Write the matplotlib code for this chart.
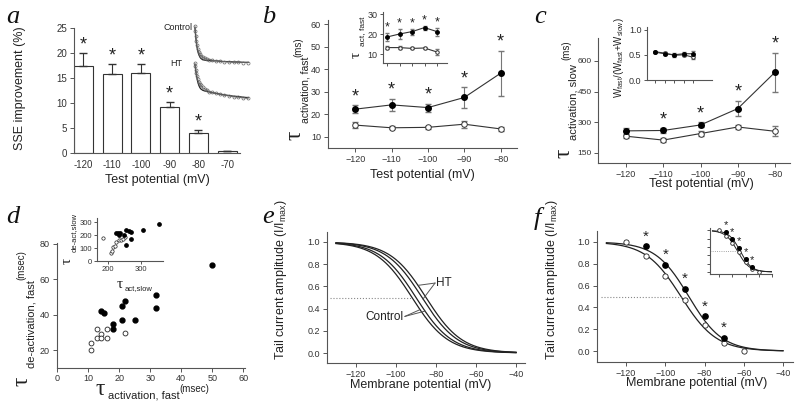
import numpy as np
import matplotlib
matplotlib.use("Agg")
import matplotlib.pyplot as plt

plt.rcParams['font.family'] = ['Liberation Sans', 'DejaVu Sans']
plt.rcParams['mathtext.fontset'] = 'custom'
plt.rcParams['mathtext.rm'] = 'Liberation Sans'
plt.rcParams['mathtext.it'] = 'Liberation Sans:italic'

# ---- data ----
# a: SSE improvement of the two-exponential fit
a_pot = [-120, -110, -100, -90, -80, -70]
sse = [17.4, 15.8, 15.9, 9.2, 4.0, 0.3]
sse_err = [2.6, 2.0, 1.8, 1.0, 0.6, 0.1]
sse_sig = [1, 1, 1, 1, 1, 0]

# a inset: example current traces (normalised)
trace_t = [0, 0.5, 1, 1.5, 2, 3, 4, 5, 6, 8, 10, 12, 15, 18, 22, 26, 30, 35, 40, 45, 50, 55]
ctrl_i = [1.0, 0.86, 0.73, 0.59, 0.48, 0.37, 0.29, 0.24, 0.19, 0.15, 0.12, 0.10,
          0.08, 0.07, 0.05, 0.04, 0.03, 0.02, 0.015, 0.01, 0.005, 0.0]
ctrl_fit = [0.95, 0.80, 0.66, 0.54, 0.44, 0.31, 0.22, 0.16, 0.12, 0.08, 0.07, 0.06,
            0.06, 0.05, 0.05, 0.04, 0.03, 0.03, 0.02, 0.02, 0.01, 0.01]
ht_i = [1.0, 0.92, 0.81, 0.72, 0.64, 0.54, 0.47, 0.41, 0.37, 0.31, 0.27, 0.24,
        0.19, 0.17, 0.14, 0.11, 0.09, 0.07, 0.04, 0.03, 0.01, 0.0]
ht_fit = [0.97, 0.86, 0.76, 0.67, 0.59, 0.46, 0.37, 0.31, 0.27, 0.23, 0.21, 0.20,
          0.18, 0.16, 0.14, 0.12, 0.10, 0.08, 0.06, 0.05, 0.03, 0.02]

# b: tau activation fast (ms)
b_pot = [-120, -110, -100, -90, -80]
b_ht = [22.3, 24.2, 23.0, 27.5, 38.3]
b_ht_err = [1.8, 2.8, 1.8, 4.7, 10.0]
b_ct = [15.2, 14.0, 14.2, 15.6, 13.5]
b_ct_err = [1.5, 0.6, 0.6, 1.5, 1.0]
b_sig = [1, 1, 1, 1, 1]
bi_ht = [18.5, 20.0, 21.2, 23.2, 21.2]
bi_ht_err = [2.0, 2.5, 1.5, 1.0, 2.0]
bi_ct = [13.2, 13.2, 12.8, 13.0, 11.0]
bi_ct_err = [0.6, 0.6, 0.5, 0.7, 1.5]

# c: tau activation slow (ms)
c_ht = [258, 260, 287, 367, 545]
c_ht_err = [15, 12, 12, 38, 95]
c_ct = [232, 213, 245, 277, 256]
c_ct_err = [8, 10, 10, 12, 25]
c_sig = [0, 1, 1, 1, 1]
ci_ht = [0.55, 0.52, 0.50, 0.52, 0.52]
ci_ht_err = [0.02, 0.03, 0.03, 0.04, 0.05]
ci_ct = [0.56, 0.53, 0.49, 0.50, 0.45]
ci_ct_err = [0.02, 0.03, 0.03, 0.03, 0.04]

# d: deactivation vs activation time constants
d_ht_x = [50, 32, 32, 22, 21, 14, 15, 18, 18, 21, 25]
d_ht_y = [68, 51, 44, 48, 45, 42, 41, 35, 32, 37, 37]
d_ct_x = [11, 11, 13, 14, 13, 14, 16, 16, 22]
d_ct_y = [24, 20, 32, 29, 27, 27, 32, 27, 30]
di_ht_x = [354, 305, 225, 230, 232, 236, 248, 255, 262, 268, 270, 255]
di_ht_y = [285, 240, 215, 220, 200, 215, 205, 240, 230, 225, 175, 125]
di_ct_x = [185, 210, 212, 215, 220, 225, 232, 238, 245, 250]
di_ct_y = [180, 60, 75, 110, 120, 150, 160, 165, 175, 190]

# e: Boltzmann fits of individual groups
e_vhalf = [-92.0, -90.0, -87.0, -85.0]
e_slope = [9.0, 9.0, 9.0, 9.0]

# f: mean activation curves
f_ct_v = [-120, -110, -100, -90, -80, -70, -60]
f_ct = [1.0, 0.87, 0.69, 0.47, 0.24, 0.07, 0.0]
f_ht_v = [-110, -100, -90, -80, -70]
f_ht = [0.96, 0.79, 0.57, 0.32, 0.12]
f_vhalf = [-92.0, -88.0]
f_slope = [9.0, 8.5]

W, H = 800, 411
fig = plt.figure(figsize=(8, 4.11), dpi=100)
GRAY = '#555555'
LINE = '#333333'
EB = '#777777'


def box(l, t, r, b):
    return [l / W, 1 - b / H, (r - l) / W, (b - t) / H]


def ftext(x, y, s, **kw):
    return fig.text(x / W, 1 - y / H, s, **kw)


def style(ax, fs=7):
    for s in ['top', 'right']:
        ax.spines[s].set_visible(False)
    for s in ['left', 'bottom']:
        ax.spines[s].set_color(GRAY)
        ax.spines[s].set_linewidth(0.8)
    ax.tick_params(direction='out', length=3, width=0.7, color=GRAY,
                   labelsize=fs, labelcolor='#333333', pad=2)


def boltz(v, vh, k):
    return 1.0 / (1.0 + np.exp((np.asarray(v) - vh) / k))


def stars(ax, xs, tops, sig, fs=12, off=4):
    for x, t, s in zip(xs, tops, sig):
        if s:
            ax.annotate('*', (x, t), xytext=(0, off), textcoords='offset points',
                        ha='center', va='center', fontsize=fs, color='#222222')


def tau_v(x, y0, sub, xs, ys, unit=None, xu=None, yu=None, ts=17, ss=7.5, us=7):
    # vertical tau label: big tau, rotated subscript text, unit
    kw = dict(rotation=90, rotation_mode='anchor', ha='left', va='center', color='#222222')
    ftext(x, y0, '\u03c4', family='Liberation Serif', fontsize=ts, **kw)
    ftext(xs, ys, sub, fontsize=ss, **kw)
    if unit:
        ftext(xu, yu, unit, fontsize=us, **kw)


def mean_plot(ax, x, ht, ht_err, ct, ct_err, ms=4, cap=2):
    ax.errorbar(x, ct, yerr=ct_err, fmt='none', ecolor=EB, elinewidth=0.8, capsize=cap)
    ax.errorbar(x, ht, yerr=ht_err, fmt='none', ecolor=EB, elinewidth=0.8, capsize=cap)
    ax.plot(x, ct, '-o', color=LINE, lw=0.8, ms=ms, mfc='white', mec=LINE, mew=0.7)
    ax.plot(x, ht, '-o', color=LINE, lw=0.8, ms=ms, mfc='black', mec='black')


letter_kw = dict(family='Liberation Serif', style='italic', fontsize=19, color='#111111',
                 ha='left', va='baseline')

# ---------------- a ----------------
ax = fig.add_axes(box(74, 28, 240, 153))
style(ax)
xa = np.arange(len(a_pot))
ax.bar(xa, sse, width=0.66, color='white', edgecolor='#333333', lw=0.8)
ax.errorbar(xa, sse, yerr=[np.zeros(len(sse)), sse_err], fmt='none', ecolor='#333333',
            elinewidth=0.8, capsize=3)
stars(ax, xa, np.add(sse, sse_err), sse_sig, fs=13, off=6)
ax.set_xlim(-0.33, 5.45)
ax.set_ylim(0, 25)
ax.set_yticks([0, 5, 10, 15, 20, 25])
ax.set_xticks(xa)
ax.set_xticklabels([str(v) for v in a_pot])
ax.tick_params(axis='x', length=0, pad=5)
ftext(20, 88, 'SSE improvement (%)', rotation=90, ha='center', va='center', fontsize=9, color='#222222')
ftext(157, 180, 'Test potential (mV)', ha='center', va='center', fontsize=9, color='#222222')
ftext(6, 23, 'a', **letter_kw)

# inset traces
for (t0, b0, yi, yf, lo, hi) in [(24, 65, ctrl_i, ctrl_fit, -0.063, 1.054),
                                  (61, 100, ht_i, ht_fit, -0.049, 1.066)]:
    axi = fig.add_axes(box(193, t0, 250, b0))
    axi.plot(trace_t, yf, color='#222222', lw=0.9)
    axi.plot(trace_t, yi, '-o', color='#666666', lw=0.6, ms=2.2, mfc='none', mec='#666666', mew=0.5)
    axi.set_xlim(-2, 57)
    axi.set_ylim(lo, hi)
    axi.axis('off')
ftext(193, 27, 'Control', ha='right', va='center', fontsize=6.5, color='#222222')
ftext(176, 63, 'HT', ha='center', va='center', fontsize=6.5, color='#222222')

# ---------------- b ----------------
ax = fig.add_axes(box(328, 20, 517, 148))
style(ax, fs=6.5)
mean_plot(ax, b_pot, b_ht, b_ht_err, b_ct, b_ct_err)
stars(ax, b_pot, np.add(b_ht, b_ht_err), b_sig, fs=13, off=6)
ax.set_xlim(-127.5, -75.5)
ax.set_ylim(5, 62)
ax.set_xticks(b_pot)
ax.set_yticks([10, 20, 30, 40, 50, 60])
ftext(422, 175, 'Test potential (mV)', ha='center', va='center', fontsize=9, color='#222222')
tau_v(295, 140, 'activation, fast', 305, 123, '(ms)', 298, 57, ts=17, ss=7.5)
ftext(262, 23, 'b', **letter_kw)

axi = fig.add_axes(box(383, 12, 447, 63))
style(axi, fs=6.5)
xi = np.arange(1, 6)
mean_plot(axi, xi, bi_ht, bi_ht_err, bi_ct, bi_ct_err, ms=2.5, cap=1.2)
stars(axi, xi, np.add(bi_ht, bi_ht_err), b_sig, fs=9, off=4)
axi.set_xlim(0.68, 5.8)
axi.set_ylim(5.5, 31)
axi.set_xticks(xi)
axi.set_xticklabels([])
axi.set_yticks([10, 20, 30])
axi.tick_params(length=2)
tau_v(356, 58, 'act, fast', 363, 46, ts=11, ss=6)

# ---------------- c ----------------
ax = fig.add_axes(box(598, 38, 790, 163))
style(ax, fs=6.5)
mean_plot(ax, b_pot, c_ht, c_ht_err, c_ct, c_ct_err)
stars(ax, b_pot, np.add(c_ht, c_ht_err), c_sig, fs=13, off=6)
ax.set_xlim(-127.5, -76)
ax.set_ylim(101, 712)
ax.set_xticks(b_pot)
ax.set_yticks([150, 300, 450, 600])
ax.tick_params(axis='y', pad=1.5, labelsize=6)
ftext(701, 184, 'Test potential (mV)', ha='center', va='center', fontsize=9, color='#222222')
tau_v(564, 158, 'activation, slow', 573, 140, '(ms)', 566, 60, ts=17, ss=8, us=7)
ftext(534, 23, 'c', **letter_kw)

axi = fig.add_axes(box(647, 27, 712, 80))
style(axi, fs=6.5)
mean_plot(axi, xi, ci_ht, ci_ht_err, ci_ct, ci_ct_err, ms=2.5, cap=1.2)
axi.set_xlim(0.1, 7.0)
axi.set_ylim(0, 1.05)
axi.set_xticks(xi)
axi.set_xticklabels([])
axi.set_yticks([0.0, 0.5, 1.0])
axi.set_yticklabels(['0.0', '0.5', '1.0'])
axi.tick_params(length=2)
ftext(619, 58, r'W$_{\rm fast}$/(W$_{\rm fast}$+W$_{\rm slow}$)', rotation=90, ha='center',
      va='center', fontsize=7, color='#222222')

# ---------------- d ----------------
ax = fig.add_axes(box(57, 243, 245, 368))
style(ax, fs=6.5)
ax.plot(d_ct_x, d_ct_y, 'o', ms=3.5, mfc='white', mec='#222222', mew=0.6)
ax.plot(d_ht_x, d_ht_y, 'o', ms=3.5, mfc='black', mec='black')
ax.set_xlim(0, 60.5)
ax.set_ylim(10, 80.5)
ax.set_xticks([0, 10, 20, 30, 40, 50, 60])
ax.set_yticks([20, 40, 60, 80])
ax.tick_params(axis='x', pad=1.5)
tau_v(22, 386, 'de-activation, fast', 31, 368, '(msec)', 21, 280, ts=17, ss=8, us=7)
hk = dict(ha='left', va='baseline', color='#222222')
ftext(96, 395, '\u03c4', family='Liberation Serif', fontsize=17, **hk)
ftext(108, 398, 'activation, fast', fontsize=8, **hk)
ftext(179, 392, '(msec)', fontsize=7, **hk)
ftext(6, 223, 'd', **letter_kw)

axi = fig.add_axes(box(97, 218, 163, 261))
style(axi, fs=5.5)
axi.plot(di_ct_x, di_ct_y, 'o', ms=2.4, mfc='white', mec='#222222', mew=0.5)
axi.plot(di_ht_x, di_ht_y, 'o', ms=2.4, mfc='black', mec='black')
axi.set_xlim(167, 365)
axi.set_ylim(0, 335)
axi.set_xticks([200, 300])
axi.set_yticks([0, 100, 200, 300])
axi.tick_params(length=2, pad=1.5)
tau_v(67, 264, 'de-act,slow', 74, 252, ts=11, ss=5.5)
ftext(117, 288, '\u03c4', family='Liberation Serif', fontsize=11, **hk)
ftext(125, 290, 'act,slow', fontsize=5.5, **hk)

# ---------------- e ----------------
ax = fig.add_axes(box(327, 232, 525, 363))
style(ax, fs=6.5)
ve = np.linspace(-130, -40, 200)
for vh, k in zip(e_vhalf, e_slope):
    ax.plot(ve, boltz(ve, vh, k), color='#222222', lw=0.9)
ax.plot([-133, -92], [0.5, 0.5], ':', color='#888888', lw=0.8)
ax.set_xlim(-134.5, -35.5)
ax.set_ylim(-0.09, 1.09)
ax.set_xticks([-120, -100, -80, -60, -40])
ax.set_yticks(np.arange(0, 1.01, 0.2))
ax.yaxis.set_major_formatter(matplotlib.ticker.FormatStrFormatter('%.1f'))
ax.text(-80, 0.63, 'HT', ha='left', va='center', fontsize=8.5, color='#222222')
for vx, i in [(-89.0, 3), (-86.5, 2)]:
    ax.plot([-80.5, vx], [0.63, boltz(vx, e_vhalf[i], e_slope[i])], color='#555555', lw=0.7)
ax.text(-96.5, 0.32, 'Control', ha='right', va='center', fontsize=8.5, color='#222222')
for vx, i in [(-88.0, 0), (-85.5, 1)]:
    ax.plot([-95.5, vx], [0.33, boltz(vx, e_vhalf[i], e_slope[i])], color='#555555', lw=0.7)
ftext(421, 385, 'Membrane potential (mV)', ha='center', va='center', fontsize=9, color='#222222')
ftext(281, 280, 'Tail current amplitude (I/I$_{\\rm max}$)', rotation=90, ha='center',
      va='center', fontsize=9, color='#222222')
ftext(262, 223, 'e', **letter_kw)


# ---------------- f ----------------
def act_plot(ax, ms, fs, off, lw):
    vf = np.linspace(-130, -40, 200)
    for vh, k in zip(f_vhalf, f_slope):
        ax.plot(vf, boltz(vf, vh, k), color='#222222', lw=lw)
    ax.plot(f_ct_v, f_ct, 'o', ms=ms, mfc='white', mec='#222222', mew=0.6)
    ax.plot(f_ht_v, f_ht, 'o', ms=ms, mfc='black', mec='black')
    stars(ax, f_ht_v, f_ht, [1] * len(f_ht), fs=fs, off=off)


ax = fig.add_axes(box(597, 231, 793, 362))
style(ax, fs=6.5)
act_plot(ax, 3.8, 11, 7, 0.9)
ax.plot([-133, -92], [0.5, 0.5], ':', color='#888888', lw=0.8)
ax.set_xlim(-134.8, -34.9)
ax.set_ylim(-0.1, 1.1)
ax.set_xticks([-120, -100, -80, -60, -40])
ax.set_yticks(np.arange(0, 1.01, 0.2))
ax.yaxis.set_major_formatter(matplotlib.ticker.FormatStrFormatter('%.1f'))
ftext(697, 383, 'Membrane potential (mV)', ha='center', va='center', fontsize=9, color='#222222')
ftext(552, 280, 'Tail current amplitude (I/I$_{\\rm max}$)', rotation=90, ha='center',
      va='center', fontsize=9, color='#222222')
ftext(534, 225, 'f', **letter_kw)

axi = fig.add_axes(box(710, 228, 772, 274))
style(axi, fs=5)
act_plot(axi, 2.6, 8, 5, 0.7)
axi.plot([-133, -93], [0.5, 0.5], ':', color='#888888', lw=0.6)
axi.set_xlim(-133.7, -40.5)
axi.set_ylim(-0.05, 1.06)
axi.set_xticks([-120, -100, -80, -60, -40])
axi.set_yticks(np.arange(0, 1.01, 0.2))
axi.set_xticklabels([])
axi.set_yticklabels([])
axi.tick_params(length=2)

fig.savefig('out.png', dpi=100)
